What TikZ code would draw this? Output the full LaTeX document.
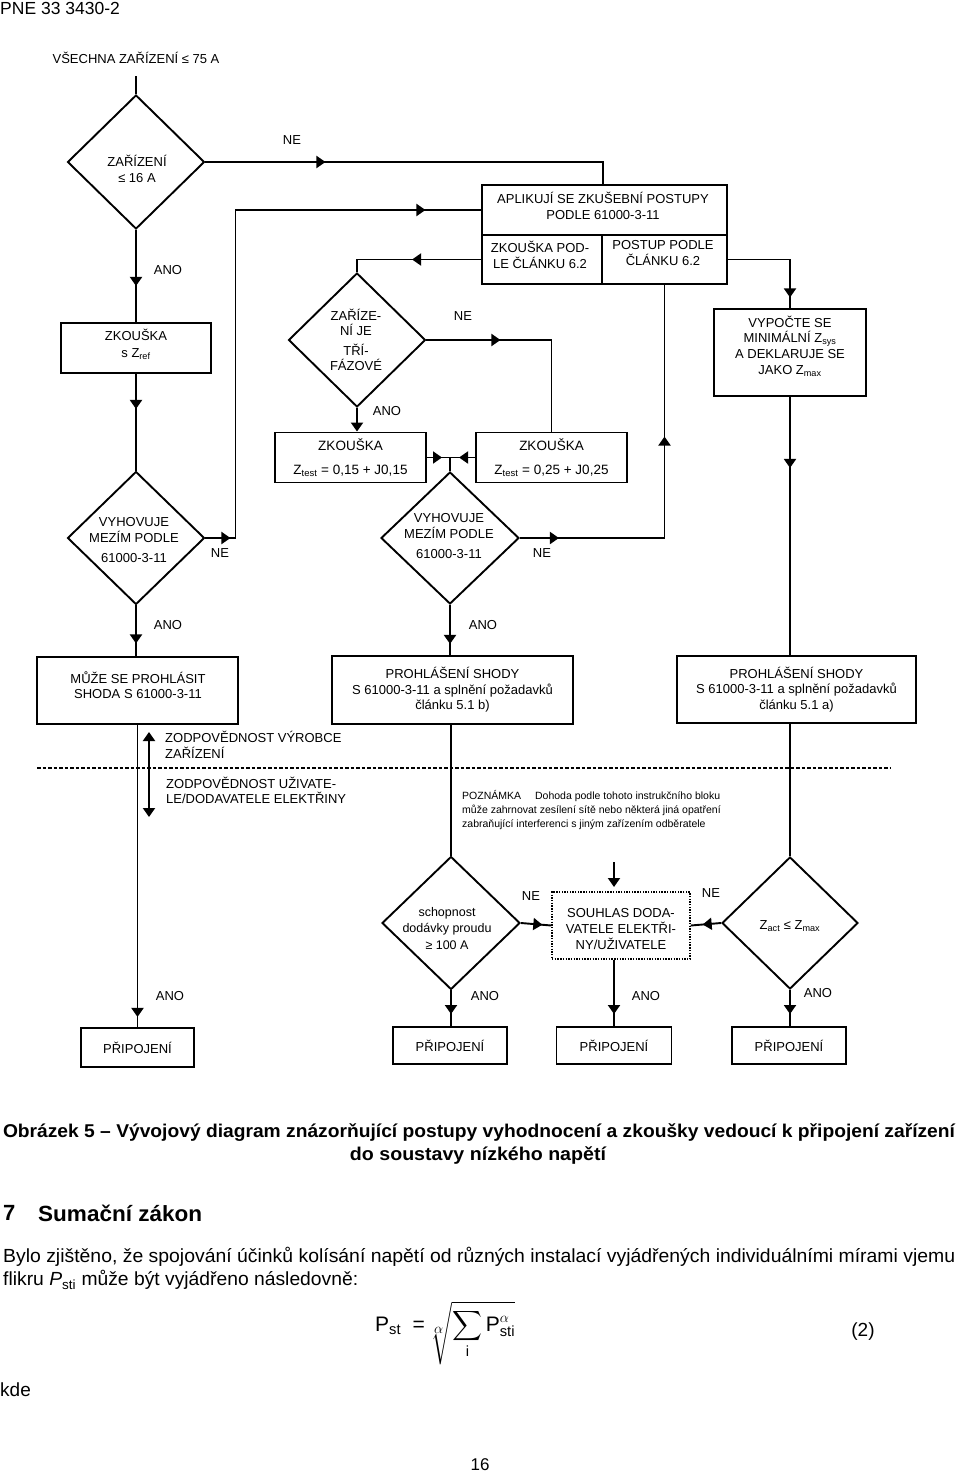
\documentclass[tikz,border=0pt]{standalone}
\usepackage{amsmath}
\usepackage{fontspec}
\setmainfont{Liberation Sans}
\usepackage{graphicx}
\usetikzlibrary{shapes.geometric,arrows.meta,decorations.markings}
\newcommand{\zs}[1]{\textsubscript{#1}}
\tikzset{
  every node/.style={font=\fontsize{13}{16}\selectfont, inner sep=0pt, align=center},
  ln/.style={line width=1.9pt},
  box/.style={draw, rectangle, line width=1.9pt},
  dia/.style={draw, diamond, aspect=1, line width=1.9pt, inner sep=0pt},
  dotbox/.style={draw, rectangle, line width=1.4pt, dash pattern=on 1.4pt off 1.3pt},
  endarr/.style={-{Triangle[length=9pt,width=12pt]}},
  am/.style={postaction={decorate}, decoration={markings, mark=at position #1 with {\arrow{Triangle[length=9pt,width=12pt]}}}},
  am2/.style 2 args={postaction={decorate}, decoration={markings,
     mark=at position #1 with {\arrow{Triangle[length=9pt,width=12pt]}},
     mark=at position #2 with {\arrow{Triangle[length=9pt,width=12pt]}}}},
  lbl/.style={font=\fontsize{13}{16}\selectfont},
  body/.style={font=\fontsize{19}{22}\selectfont},
}
\begin{document}
\begin{tikzpicture}[x=1pt,y=-1pt]
\useasboundingbox (0,0) rectangle (960,1472);
\fill[white] (0,0) rectangle (960,1472);

% header
\node[anchor=base west, font=\fontsize{17.5}{20}\selectfont] (hdr) at (0,15) {PNE 33 3430-2};

% top
\node (vse) at (136,58) {VŠECHNA ZAŘÍZENÍ ≤ 75 A};
\coordinate (c0) at (136,76);
\node[dia, minimum width=137pt, minimum height=134pt] (d1) at (136,162) {};
\node (d1t) at (137,169) {ZAŘÍZENÍ\\≤ 16 A};

% APLIKUJI block
\node[box, minimum width=245pt, minimum height=50pt] (apl) at (604.5,210) {};
\node (aplt) at (603,206) {APLIKUJÍ SE ZKUŠEBNÍ POSTUPY\\PODLE 61000-3-11};
\node[box, minimum width=120pt, minimum height=49pt] (zk62) at (542,259.5) {};
\node (zk62t) at (540,255) {ZKOUŠKA POD-\\LE ČLÁNKU 6.2};
\node[box, minimum width=125pt, minimum height=49pt] (po62) at (664.5,259.5) {};
\node (po62t) at (663,253) {POSTUP PODLE\\ČLÁNKU 6.2};

% second row
\node[box, minimum width=150pt, minimum height=50pt] (zkref) at (136,348) {};
\node (zkreft) at (136,344.5) {ZKOUŠKA\\[1pt]s Z\zs{ref}};
\node[dia, minimum width=137pt, minimum height=134pt] (d2) at (357,340) {};
\node[font=\fontsize{13}{14.5}\selectfont] (d2t) at (356,340) {ZAŘÍZE-\\NÍ JE\\[6pt]TŘÍ-\\FÁZOVÉ};
\node[box, minimum width=152pt, minimum height=87pt] (vyp) at (790,352.5) {};
\node[font=\fontsize{13}{15.7}\selectfont] (vypt) at (790,346) {VYPOČTE SE\\MINIMÁLNÍ Z\zs{sys}\\A DEKLARUJE SE\\JAKO Z\zs{max}};

% test boxes
\node[box, minimum width=151pt, minimum height=50pt, font=\fontsize{13.5}{16}\selectfont] (zk15) at (350.5,457.5) {ZKOUŠKA\\[8pt]Z\zs{test} = 0,15 + J0,15};
\node[box, minimum width=151pt, minimum height=50pt, font=\fontsize{13.5}{16}\selectfont] (zk25) at (551.5,457.5) {ZKOUŠKA\\[8pt]Z\zs{test} = 0,25 + J0,25};
\coordinate (j) at (450,457.5);

% VYHOVUJE diamonds
\node[dia, minimum width=137pt, minimum height=133pt] (dL) at (136,538) {};
\node (dLt) at (134,540) {VYHOVUJE\\MEZÍM PODLE\\[4pt]61000-3-11};
\node[dia, minimum width=138pt, minimum height=132pt] (d3) at (450,538) {};
\node (d3t) at (449,536) {VYHOVUJE\\MEZÍM PODLE\\[4pt]61000-3-11};

% declaration boxes
\node[box, minimum width=201pt, minimum height=67pt] (pr1) at (137.5,690.5) {};
\node[font=\fontsize{13}{14.5}\selectfont] (pr1t) at (138,685) {MŮŽE SE PROHLÁSIT\\SHODA S 61000-3-11};
\node[box, minimum width=241pt, minimum height=68pt, font=\fontsize{13}{15.5}\selectfont] (pr2) at (452.5,690) {PROHLÁŠENÍ SHODY\\S 61000-3-11 a splnění požadavků\\článku 5.1 b)};
\node[box, minimum width=239pt, minimum height=67pt, font=\fontsize{13}{15.5}\selectfont] (pr3) at (796.5,689.5) {PROHLÁŠENÍ SHODY\\S 61000-3-11 a splnění požadavků\\článku 5.1 a)};

% responsibility
\coordinate (ra) at (149,732);
\coordinate (rb) at (149,817);
\draw[line width=1.9pt, {Triangle[length=9pt,width=12pt]}-{Triangle[length=9pt,width=12pt]}] (ra) -- (rb);
\node[anchor=west, align=left] (zv) at (165,745) {ZODPOVĚDNOST VÝROBCE\\ZAŘÍZENÍ};
\node[anchor=west, align=left, font=\fontsize{13}{15}\selectfont] (zu) at (166,790.5) {ZODPOVĚDNOST UŽIVATE-\\LE/DODAVATELE ELEKTŘINY};
\coordinate (dl1) at (37,768);
\coordinate (dl2) at (890,768);
\draw[line width=1.1pt, dash pattern=on 3.5pt off 2pt] (dl1) -- (dl2);
\node[anchor=north west, align=left, font=\fontsize{10.5}{14}\selectfont] (poz) at (462,790) {POZNÁMKA\hspace{14pt}Dohoda podle tohoto instrukčního bloku\\může zahrnovat zesílení sítě nebo některá jiná opatření\\zabraňující interferenci s jiným zařízením odběratele};

% bottom diamonds and agreement box
\node[dia, minimum width=138pt, minimum height=133pt] (ds) at (451,923) {};
\node[font=\fontsize{12.5}{16}\selectfont] (dst) at (447,929) {schopnost\\dodávky proudu\\[1pt]≥ 100 A};
\node[dotbox, minimum width=138pt, minimum height=67pt] (souhlas) at (621,925.5) {};
\node[font=\fontsize{13}{16}\selectfont] (souhlast) at (621,929) {SOUHLAS DODA-\\VATELE ELEKTŘI-\\NY/UŽIVATELE};
\node[dia, minimum width=136pt, minimum height=132pt] (dz) at (790,923) {};
\node[font=\fontsize{13}{16}\selectfont] (dzt) at (790,926) {Z\zs{act} ≤ Z\zs{max}};
\coordinate (fa) at (614,862);
\coordinate (fb) at (614,887);

% connection boxes
\node[box, minimum width=113pt, minimum height=39pt] (con1) at (137.5,1047.5) {PŘIPOJENÍ};
\node[box, minimum width=114pt, minimum height=37pt] (con2) at (450,1045.5) {PŘIPOJENÍ};
\node[box, minimum width=115pt, minimum height=37pt] (con3) at (614,1045.5) {PŘIPOJENÍ};
\node[box, minimum width=114pt, minimum height=37pt] (con4) at (789,1045.5) {PŘIPOJENÍ};

% connectors
\draw[ln] (c0) -- (d1.north);
\draw[ln, am=120pt] (d1.east) -| (zk62.east |- apl.north);
\draw[ln, am=56pt] (d1.south) -- (zkref.north);
\draw[ln, am=35pt] (zkref.south) -- (dL.north);
\draw[ln, am2={25pt}{548pt}] (dL.east) -- ++(30,0) |- (apl.west);
\draw[ln, am=69pt] (zk62.west) -| (d2.north);
\draw[ln, am=74pt] (d2.east) -| (zk25.north);
\draw[ln, endarr] (d2.south) -- (d2.south |- zk15.north);
\draw[ln, am=-8pt] (zk15.east) -- (j);
\draw[ln, am=16pt] (zk25.west) -- (j);
\draw[ln] (j) -- (d3.north);
\draw[ln, am2={39pt}{246pt}] (d3.east) -| (po62.south);
\draw[ln, am=100pt] (po62.east) -| (vyp.north);
\draw[ln, am=71pt] (vyp.south) -- (vyp.south |- pr3.north);
\draw[ln, am=38pt] (dL.south) -- (dL.south |- pr1.north);
\draw[ln, am=39pt] (d3.south) -- (d3.south |- pr2.north);
\draw[ln, am=292pt] (pr1.south) -- (con1.north);
\draw[ln] (ds.north |- pr2.south) -- (ds.north);
\draw[ln] (dz.north |- pr3.south) -- (dz.north);
\draw[ln, am=-9pt] (ds.east) -- (souhlas.west);
\draw[ln, am=-12pt] (dz.west) -- (souhlas.east);
\draw[ln, am=-12pt] (ds.south) -- (ds.south |- con2.north);
\draw[ln, am=-12pt] (souhlas.south -| con3.north) -- (con3.north);
\draw[ln, am=-12pt] (dz.south) -- (dz.south |- con4.north);
\draw[ln, endarr] (fa) -- (fb);

% labels
\node[lbl] (l1) at (292,140) {NE};
\node[lbl] (l2) at (168,270) {ANO};
\node[lbl] (l3) at (463,316) {NE};
\node[lbl] (l4) at (387,411) {ANO};
\node[lbl] (l5) at (220,553) {NE};
\node[lbl] (l6) at (542,553) {NE};
\node[lbl] (l7) at (168,625) {ANO};
\node[lbl] (l8) at (483,625) {ANO};
\node[lbl] (l9) at (170,996) {ANO};
\node[lbl] (l10) at (531,896) {NE};
\node[lbl] (l11) at (711,893) {NE};
\node[lbl] (l12) at (485,996) {ANO};
\node[lbl] (l13) at (646,996) {ANO};
\node[lbl] (l14) at (818,993) {ANO};

% text below
\node[font=\bfseries\fontsize{18.5}{20}\selectfont] (cap1) at (479,1133) {\resizebox{952pt}{\height}{Obrázek 5 – Vývojový diagram znázorňující postupy vyhodnocení a zkoušky vedoucí k připojení zařízení}};
\node[font=\bfseries\fontsize{18.5}{20}\selectfont] (cap2) at (478,1155) {\resizebox{256pt}{\height}{do soustavy nízkého napětí}};
\node[anchor=west, font=\bfseries\fontsize{22}{24}\selectfont] (h7) at (3,1213) {7};
\node[anchor=west, font=\bfseries\fontsize{22}{24}\selectfont] (h7t) at (38,1213) {\resizebox{164pt}{\height}{Sumační zákon}};
\node[anchor=west, body] (p1) at (3,1257) {\resizebox{952pt}{\height}{Bylo zjištěno, že spojování účinků kolísání napětí od různých instalací vyjádřených individuálními mírami vjemu}};
\node[anchor=west, body] (p2) at (3,1280) {\resizebox{355pt}{\height}{flikru \textit{P}\textsubscript{sti} může být vyjádřeno následovně:}};
\node[anchor=west, font=\fontsize{21}{26}\selectfont] (eq) at (375,1333) {$\text{P}_{\text{st}}\;\;\text{=}\,\sqrt[\scriptstyle\alpha]{\displaystyle\sum\limits_{\text{i}}\text{P}_{\text{sti}}^{\alpha}}$};
\node[body] (eqn) at (863,1332) {(2)};
\node[anchor=west, body] (kde) at (0,1390) {kde};
\node[font=\fontsize{17}{20}\selectfont] (pg) at (480,1465) {16};
\end{tikzpicture}
\end{document}
